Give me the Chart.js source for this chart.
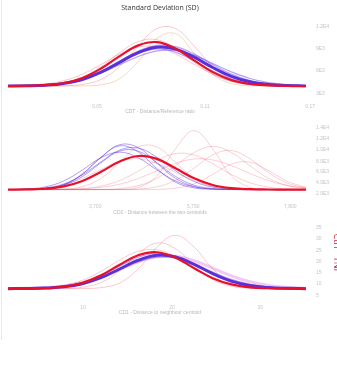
<!DOCTYPE html>
<html>
<head>
<meta charset="utf-8">
<script src="https://cdn.jsdelivr.net/npm/chart.js@4/dist/chart.umd.min.js"></script>
<style>
  html, body { margin: 0; padding: 0; background: #fff; }
  #wrap { position: relative; width: 337px; height: 366px; overflow: hidden; }
  #wrap .edge { position: absolute; left: 1px; top: 0; width: 1px; height: 340px; background: #e8e8e8; }
  #wrap canvas { position: absolute; left: 0; }
</style>
</head>
<body>
<div id="wrap">
  <div class="edge"></div>
  <canvas id="sd_chart1" width="337" height="118" style="top:0"></canvas>
  <canvas id="sd_chart2" width="337" height="100" style="top:118px"></canvas>
  <canvas id="sd_chart3" width="337" height="102" style="top:218px"></canvas>
</div>
<script>
// shared x grid for every density curve
const xGrid = [0, 6, 12, 18, 24, 30, 36, 42, 48, 54, 60, 66, 72, 78, 84, 90, 96];

// panel 1
const p1RedBold = [0, 0.02, 0.09, 0.30, 0.81, 1.75, 2.99, 4.06, 4.39, 3.76, 2.56, 1.39, 0.59, 0.20, 0.06, 0.01, 0];
const p1BlueBold = [0, 0.02, 0.08, 0.26, 0.65, 1.38, 2.37, 3.34, 3.88, 3.69, 2.88, 1.85, 0.97, 0.42, 0.15, 0.04, 0.01];
const p1Blue = [
  [0.01, 0.03, 0.10, 0.30, 0.73, 1.47, 2.49, 3.49, 4.06, 3.93, 3.19, 2.14, 1.19, 0.55, 0.21, 0.07, 0.02],
  [0, 0.02, 0.07, 0.23, 0.63, 1.35, 2.34, 3.26, 3.70, 3.39, 2.51, 1.49, 0.72, 0.28, 0.09, 0.02, 0],
  [0.01, 0.04, 0.11, 0.30, 0.67, 1.30, 2.12, 2.95, 3.51, 3.55, 3.06, 2.25, 1.41, 0.75, 0.34, 0.13, 0.04]
];
const p1Red = [
  [0, 0.02, 0.09, 0.31, 0.88, 1.94, 3.33, 4.45, 4.63, 3.76, 2.37, 1.17, 0.45, 0.13, 0.03, 0.01, 0],
  [0, 0, 0, 0.03, 0.16, 0.66, 1.95, 4.00, 5.74, 5.74, 4.00, 1.95, 0.66, 0.16, 0.03, 0, 0],
  [0.02, 0.06, 0.20, 0.54, 1.19, 2.16, 3.20, 3.90, 3.90, 3.20, 2.16, 1.19, 0.54, 0.20, 0.06, 0.02, 0]
];
const p1Orange = [[0, 0, 0, 0, 0.01, 0.12, 0.73, 2.47, 4.76, 5.23, 3.28, 1.17, 0.24, 0.03, 0, 0, 0]];
const p1XTickAt = [28.7, 63.5, 97.4];
const p1XTicks = ["0.05", "0.11", "0.17"];
const p1YTickAt = [5.9, 3.7, 1.5, -0.8];
const p1YTicks = ["1.2E4", "9E3", "6E3", "3E3"];

// panel 2
const p2RedBold = [0, 0.02, 0.09, 0.34, 0.92, 1.90, 2.99, 3.59, 3.28, 2.27, 1.20, 0.49, 0.15, 0.04, 0.01, 0, 0];
const p2Blue = [
  [0, 0.01, 0.10, 0.51, 1.66, 3.47, 4.67, 4.02, 2.23, 0.79, 0.18, 0.03, 0, 0, 0, 0, 0],
  [0, 0.02, 0.11, 0.47, 1.40, 2.87, 4.11, 4.11, 2.87, 1.40, 0.47, 0.11, 0.02, 0, 0, 0, 0],
  [0.01, 0.07, 0.29, 0.93, 2.09, 3.40, 4.00, 3.40, 2.09, 0.93, 0.29, 0.07, 0.01, 0, 0, 0, 0],
  [0, 0.04, 0.17, 0.61, 1.57, 2.97, 4.22, 4.43, 3.45, 2.01, 0.86, 0.27, 0.06, 0.01, 0, 0, 0],
  [0, 0.02, 0.11, 0.53, 1.66, 3.44, 4.79, 4.48, 2.82, 1.20, 0.33, 0.06, 0.01, 0, 0, 0, 0]
];
const p2Red = [
  [0, 0, 0, 0.05, 0.32, 1.20, 2.91, 4.55, 4.55, 2.91, 1.20, 0.32, 0.05, 0, 0, 0, 0],
  [0, 0, 0, 0, 0, 0, 0.02, 0.23, 1.46, 4.35, 6.30, 4.35, 1.46, 0.23, 0.02, 0, 0],
  [0, 0, 0, 0, 0, 0.02, 0.11, 0.43, 1.20, 2.54, 3.96, 4.60, 3.96, 2.54, 1.20, 0.43, 0.11],
  [0, 0, 0, 0, 0, 0, 0.01, 0.06, 0.30, 0.99, 2.29, 3.70, 4.18, 3.29, 1.81, 0.69, 0.18],
  [0, 0, 0, 0.03, 0.11, 0.37, 0.97, 1.97, 3.12, 3.85, 3.69, 2.76, 1.61, 0.73, 0.26, 0.07, 0.02],
  [0, 0, 0, 0, 0, 0, 0, 0, 0.02, 0.15, 0.62, 1.62, 2.72, 2.93, 2.02, 0.89, 0.26],
  [0, 0, 0.01, 0.02, 0.08, 0.24, 0.58, 1.19, 2.00, 2.81, 3.27, 3.16, 2.56, 1.72, 0.96, 0.45, 0.17],
  [0.01, 0.05, 0.18, 0.52, 1.20, 2.16, 3.02, 3.29, 2.79, 1.84, 0.95, 0.38, 0.12, 0.03, 0, 0, 0]
];
const p2XTickAt = [28.1, 59.7, 91.0];
const p2XTicks = ["3,700", "5,750", "7,800"];
const p2YTickAt = [6.6, 5.4, 4.3, 3.0, 1.9, 0.7, -0.4];
const p2YTicks = ["1.4E4", "1.2E4", "1.0E4", "8.0E3", "6.0E3", "4.0E3", "2.0E3"];

// panel 3
const p3RedBold = [0, 0.01, 0.05, 0.21, 0.62, 1.42, 2.55, 3.57, 3.89, 3.30, 2.18, 1.12, 0.45, 0.14, 0.04, 0.01, 0];
const p3BlueBold = [0, 0.01, 0.06, 0.19, 0.53, 1.17, 2.10, 3.04, 3.57, 3.39, 2.59, 1.61, 0.81, 0.33, 0.11, 0.03, 0];
const p3Blue = [
  [0.01, 0.02, 0.08, 0.25, 0.61, 1.22, 2.06, 2.89, 3.37, 3.26, 2.64, 1.77, 0.99, 0.46, 0.17, 0.06, 0.02],
  [0, 0.02, 0.07, 0.24, 0.65, 1.39, 2.40, 3.35, 3.80, 3.48, 2.58, 1.53, 0.74, 0.29, 0.09, 0.02, 0]
];
const p3Pink = [[0.01, 0.04, 0.11, 0.29, 0.65, 1.26, 2.06, 2.87, 3.41, 3.45, 2.98, 2.19, 1.37, 0.73, 0.33, 0.13, 0.04]];
const p3Red = [
  [0, 0, 0, 0, 0.01, 0.11, 0.60, 2.11, 4.43, 5.70, 4.43, 2.11, 0.60, 0.11, 0.01, 0, 0],
  [0, 0, 0, 0.02, 0.15, 0.66, 1.92, 3.73, 4.87, 4.26, 2.50, 0.98, 0.26, 0.05, 0, 0, 0],
  [0, 0.03, 0.10, 0.34, 0.89, 1.85, 3.05, 3.99, 4.15, 3.42, 2.24, 1.17, 0.48, 0.16, 0.04, 0.01, 0]
];
const p3XTickAt = [24.2, 52.9, 81.3];
const p3XTicks = ["10", "20", "30"];
const p3YTickAt = [6.5, 5.3, 4.1, 2.9, 1.7, 0.5, -0.7];
const p3YTicks = ["35", "30", "25", "20", "15", "10", "5"];
const sideLabels = ["Ctrl", "TNF"];

const RED = "#e8102a";
const BLUE = "#5a30d8";
const TICK = "#c4c4c4";

const line = (vals, color, width, order) => ({
  data: vals.map((y, i) => ({ x: xGrid[i], y: y })),
  borderColor: color,
  borderWidth: width,
  pointRadius: 0,
  tension: 0.4,
  fill: false,
  order: order,
});

const group = (list, color, width, order) => list.map((vals) => line(vals, color, width, order));

// rotated labels cut by the right edge (panel 3)
const sideText = {
  id: "sideText",
  afterDraw(chart, args, opts) {
    if (!opts.labels) return;
    const ctx = chart.ctx;
    ctx.save();
    ctx.font = "9px 'Open Sans', sans-serif";
    ctx.textBaseline = "middle";
    ctx.textAlign = "center";
    opts.labels.forEach((txt, i) => {
      ctx.save();
      ctx.translate(337, opts.at[i]);
      ctx.rotate(Math.PI / 2);
      ctx.fillStyle = opts.colors[i];
      ctx.fillText(txt, 0, 0);
      ctx.restore();
    });
    ctx.restore();
  },
};

const showChart = (id, cfg) => {
  new Chart(document.getElementById(id), {
    type: "line",
    data: { datasets: cfg.datasets },
    plugins: [sideText],
    options: {
      responsive: false,
      animation: false,
      devicePixelRatio: 1,
      layout: { padding: { left: 8, top: cfg.top, right: 0, bottom: 0 } },
      plugins: {
        legend: { display: false },
        tooltip: { enabled: false },
        sideText: cfg.side || {},
        title: cfg.title
          ? {
              display: true,
              text: cfg.title,
              fullSize: false,
              color: "#333",
              font: { size: 7, family: "'Open Sans', sans-serif", weight: "normal" },
              padding: { top: 3.5, bottom: 8.1 },
            }
          : { display: false },
      },
      scales: {
        x: {
          type: "linear",
          min: 0,
          max: 98,
          grid: { display: false, drawTicks: false },
          border: { display: false },
          afterFit: (s) => { s.height = cfg.xh; },
          afterBuildTicks: (s) => { s.ticks = cfg.xAt.map((v) => ({ value: v })); },
          ticks: {
            autoSkip: false,
            maxRotation: 0,
            padding: cfg.xpad,
            color: TICK,
            font: { size: 5 },
            callback: (v, i) => cfg.xLabels[i],
          },
          title: {
            display: true,
            text: cfg.xTitle,
            color: "#b8b8b8",
            font: { size: 5 },
            padding: { top: 0, bottom: cfg.tpad },
          },
        },
        y: {
          position: "right",
          min: cfg.ymin,
          max: cfg.ymax,
          grid: { display: false, drawTicks: false },
          border: { display: false },
          afterFit: (s) => { s.width = 25; },
          afterBuildTicks: (s) => { s.ticks = cfg.yAt.map((v) => ({ value: v })); },
          ticks: {
            autoSkip: false,
            padding: 4,
            color: TICK,
            font: { size: 5 },
            callback: (v, i) => cfg.yLabels[i],
          },
        },
      },
    },
  });
};

showChart("sd_chart1", {
  title: "Standard Deviation (SD)",
  top: 0, xh: 18, xpad: 4, tpad: 3, ymin: -1.4, ymax: 6.6,
  xAt: p1XTickAt, xLabels: p1XTicks, yAt: p1YTickAt, yLabels: p1YTicks,
  xTitle: "CDT - Distance/Reference ratio",
  datasets: [
    ...group(p1Orange, "rgba(240,160,90,0.5)", 0.8, 6),
    ...group(p1Red, "rgba(235,60,80,0.35)", 0.8, 5),
    ...group(p1Blue, "rgba(110,70,225,0.5)", 1.2, 4),
    line(p1BlueBold, BLUE, 3, 2),
    line(p1RedBold, RED, 2.2, 1),
  ],
});

showChart("sd_chart2", {
  top: 2, xh: 20, xpad: 6, tpad: 2, ymin: -0.9, ymax: 6.9,
  xAt: p2XTickAt, xLabels: p2XTicks, yAt: p2YTickAt, yLabels: p2YTicks,
  xTitle: "CD2 - Distance between the two centroids",
  datasets: [
    ...group(p2Red, "rgba(235,60,80,0.3)", 0.8, 5),
    ...group(p2Blue, "rgba(100,60,220,0.55)", 0.9, 4),
    line(p2RedBold, RED, 2.2, 1),
  ],
});

showChart("sd_chart3", {
  top: 2, xh: 22, xpad: 7, tpad: 4, ymin: -1.0, ymax: 6.8,
  xAt: p3XTickAt, xLabels: p3XTicks, yAt: p3YTickAt, yLabels: p3YTicks,
  xTitle: "CD1 - Distance to neighbour centroid",
  side: { labels: sideLabels, colors: [RED, "#b0205a"], at: [23, 47] },
  datasets: [
    ...group(p3Red, "rgba(235,60,80,0.35)", 0.8, 6),
    ...group(p3Pink, "rgba(225,120,220,0.4)", 3, 5),
    ...group(p3Blue, "rgba(110,70,225,0.5)", 1.2, 4),
    line(p3BlueBold, BLUE, 3, 2),
    line(p3RedBold, RED, 2.2, 1),
  ],
});
</script>
</body>
</html>
